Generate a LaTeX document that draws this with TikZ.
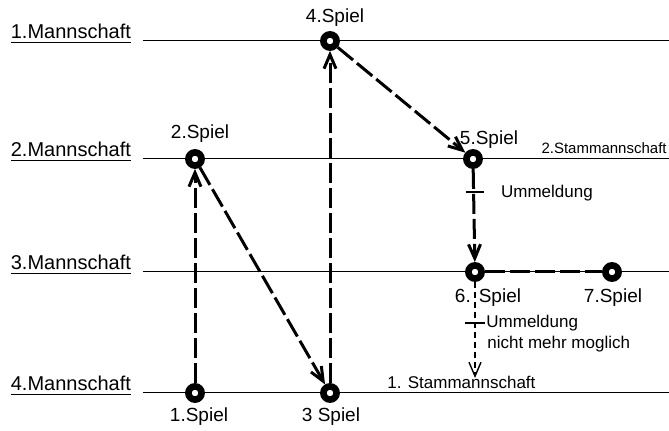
\documentclass[tikz,border=0pt]{standalone}
\usepackage{fontspec}
\setmainfont{Liberation Sans}
\usetikzlibrary{arrows.meta}

\begin{document}
\begin{tikzpicture}[x=0.5pt, y=-0.5pt, >={Straight Barb[length=7pt, width=6pt]},
    spiel/.style={circle, draw, fill=white, line width=3.3pt, minimum size=6.6pt, inner sep=0pt},
    zug/.style={->, line width=1.5pt, dash pattern=on 10pt off 2.5pt},
    verbot/.style={->, line width=0.7pt, dash pattern=on 3pt off 2pt},
    rule/.style={line width=0.5pt},
    team/.style={anchor=base east, font=\fontsize{10}{12}\selectfont},
    lbl/.style={font=\fontsize{9.5}{11}\selectfont},
    note/.style={anchor=west, font=\fontsize{8.5}{10}\selectfont}]
    \useasboundingbox (0,0) rectangle (669,431);

    % Mannschaften
    \foreach \i/\y in {1/41, 2/159, 3/272, 4/393} {
        \coordinate (l\i) at (143,\y);
        \coordinate (r\i) at (669,\y);
        \draw[rule] (l\i) -- (r\i);
        \node[team] (m\i) at (138,\y-2) {\underline{\i.Mannschaft}};
    }

    % Spiele
    \node[spiel] (s1) at (195,393) {};
    \node[spiel] (s2) at (195,159) {};
    \node[spiel] (s3) at (330,393) {};
    \node[spiel] (s4) at (330,41) {};
    \node[spiel] (s5) at (473,159) {};
    \node[spiel] (s6) at (475,272) {};
    \node[spiel] (s7) at (612,272) {};

    \node[lbl] (t1) at (199,417) {1.Spiel};
    \node[lbl] (t2) at (200,134) {2.Spiel};
    \node[lbl] (t3) at (331,417) {3 Spiel};
    \node[lbl] (t4) at (335,18) {4.Spiel};
    \node[lbl] (t5) at (489,140) {5.Spiel};
    \node[lbl] (t6) at (488,298) {6.\hspace{4pt}Spiel};
    \node[lbl] (t7) at (613,298) {7.Spiel};

    \draw[zug] (s1) -- (s2);
    \draw[zug] (s2) -- (s3);
    \draw[zug] (s3) -- (s4);
    \draw[zug] (s4) -- (s5);
    \draw[zug] (s5) -- (s6);
    \draw[zug, -] (s6) -- (s7);

    % Ummeldung
    \coordinate (k1a) at (466,192);
    \coordinate (k1b) at (484,192);
    \draw[line width=0.8pt] (k1a) -- (k1b);
    \node[note] (u1) at (494,193) {Ummeldung};

    \coordinate (e6) at (475,378);
    \draw[verbot] (s6) -- (e6);
    \coordinate (k2a) at (465,323);
    \coordinate (k2b) at (485,323);
    \draw[line width=0.7pt] (k2a) -- (k2b);
    \node[note, inner sep=0pt] (u2) at (486,323) {Ummeldung};
    \node[note, inner sep=0pt] (u3) at (487,344) {nicht mehr moglich};

    \node[anchor=base west, font=\fontsize{8.5}{10}\selectfont, inner sep=0pt] (st1) at (387,389) {1. Stammannschaft};
    \node[anchor=base east, font=\fontsize{7.5}{9}\selectfont, inner sep=0pt] (st2) at (667,154) {2.Stammannschaft};
\end{tikzpicture}
\end{document}
